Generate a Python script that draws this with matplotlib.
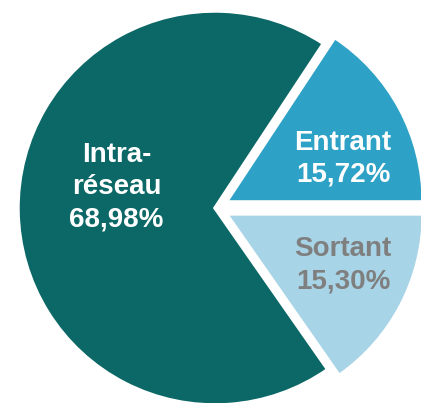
import matplotlib
matplotlib.use("Agg")
import matplotlib.pyplot as plt

# données
labels = ["Entrant\n15,72%", "Intra-\nréseau\n68,98%", "Sortant\n15,30%"]
values = [15.72, 68.98, 15.30]
colors = ["#2ea2c6", "#0b6866", "#a7d4e6"]
text_colors = ["white", "white", "#7f7f7f"]
explode = [0.065, 0.0, 0.065]

W, H = 421, 403
cx, cy, R = 215, 208, 197  # centre et rayon en pixels

fig = plt.figure(figsize=(W / 100, H / 100), dpi=100)
ax = fig.add_axes([0, 0, 1, 1])

wedges, _ = ax.pie(values, colors=colors, explode=explode, startangle=0,
                   counterclock=True, radius=1.0,
                   wedgeprops=dict(edgecolor="white", linewidth=2.5))

# pie() impose ses propres limites : on les remet après
ax.set_xlim(-cx / R, (W - cx) / R)
ax.set_ylim(-(H - cy) / R, cy / R)
ax.set_aspect("equal")
ax.axis("off")

pos = [(0.65, 0.25), (-0.50, 0.105), (0.65, -0.29)]
for lab, (x, y), c in zip(labels, pos, text_colors):
    ax.text(x, y, lab, ha="center", va="center", color=c, fontsize=20,
            fontweight="bold", linespacing=1.32,
            family=["Liberation Sans Narrow", "Liberation Sans", "DejaVu Sans"])

fig.savefig("out.png", dpi=100)
